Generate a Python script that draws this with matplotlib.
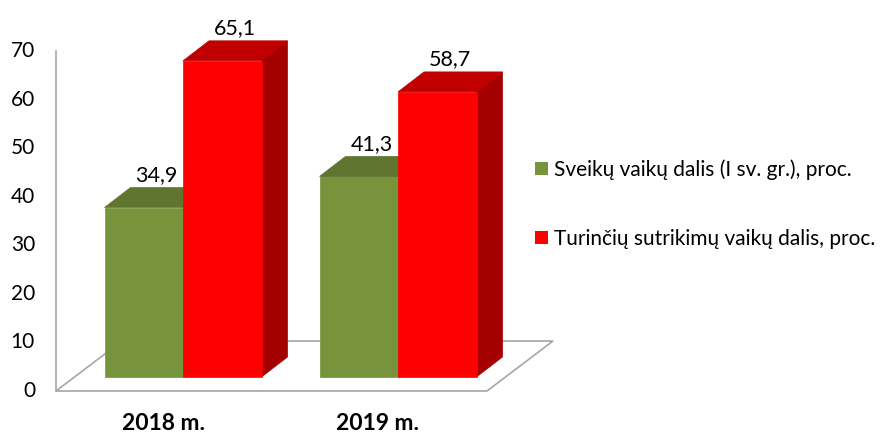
import matplotlib
matplotlib.use('Agg')
import matplotlib.pyplot as plt
from matplotlib.patches import Polygon, Patch

# dane
years = ['2018 m.', '2019 m.']
healthy = [34.9, 41.3]
disorder = [65.1, 58.7]
series_names = ['Sveikų vaikų dalis (I sv. gr.), proc.',
                'Turinčių sutrikimų vaikų dalis, proc.']
yticks = [0, 10, 20, 30, 40, 50, 60, 70]

plt.rcParams['font.family'] = ['Lato', 'DejaVu Sans']

W, H = 881, 434
S = 4.857          # px na vienetą
y0 = 391           # nulio padėtis px
fig = plt.figure(figsize=(W / 100, H / 100), dpi=100)
ax = fig.add_axes([0, 0, 1, 1])
ax.set_xlim(0, W)
ax.set_ylim(-(H - y0) / S, y0 / S)
ax.axis('off')

# grindys ir ašis
floor_d = (66, 50 / S)
fx0, fx1 = 56, 487
ax.add_patch(Polygon([(fx0, 0), (fx1, 0), (fx1 + floor_d[0], floor_d[1]),
                      (fx0 + floor_d[0], floor_d[1])], closed=True,
                     facecolor='white', edgecolor='#A6A6A6', lw=1.2, zorder=1))
ax.plot([fx0, fx0], [0, 70], color='#A6A6A6', lw=1.2, zorder=1)
for t in yticks:
    ax.text(35, t, str(t), ha='right', va='center', fontsize=15, color='#000000')

bw = 78.5
base = 2.88
dx, dy = 26, 20 / S
colors = [('#77933C', '#5F7530', '#4E6128'), ('#FF0000', '#C00000', '#A50000')]


def bar3d(x, h, cols):
    front, top, side = cols
    top_v = base + h
    ax.add_patch(Polygon([(x, base), (x + bw, base), (x + bw, top_v), (x, top_v)],
                         facecolor=front, edgecolor=front, lw=0.5, zorder=3))
    ax.add_patch(Polygon([(x, top_v), (x + bw, top_v), (x + bw + dx, top_v + dy),
                          (x + dx, top_v + dy)],
                         facecolor=top, edgecolor=top, lw=0.5, zorder=3))
    ax.add_patch(Polygon([(x + bw, base), (x + bw + dx, base + dy),
                          (x + bw + dx, top_v + dy), (x + bw, top_v)],
                         facecolor=side, edgecolor=side, lw=0.5, zorder=2))
    ax.text(x + bw / 2 + dx / 2, top_v + dy + 2.6, f'{h:.1f}'.replace('.', ','),
            ha='center', va='center', fontsize=15.5)


for i, yr in enumerate(years):
    c = 183 + 215 * i
    bar3d(c - bw, healthy[i], colors[0])
    bar3d(c, disorder[i], colors[1])
    ax.text(c - 20, -6.6, yr, ha='center', va='center', fontsize=16.5, fontweight='bold')

handles = [Patch(facecolor=colors[0][0]), Patch(facecolor=colors[1][0])]
ax.legend(handles, series_names, loc='upper left', bbox_to_anchor=(535 / W, 1 - 159 / H),
          frameon=False, fontsize=15, handlelength=0.6, handleheight=0.6,
          handletextpad=0.3, labelspacing=2.35, borderaxespad=0, borderpad=0)

fig.savefig('out.png', dpi=100)
